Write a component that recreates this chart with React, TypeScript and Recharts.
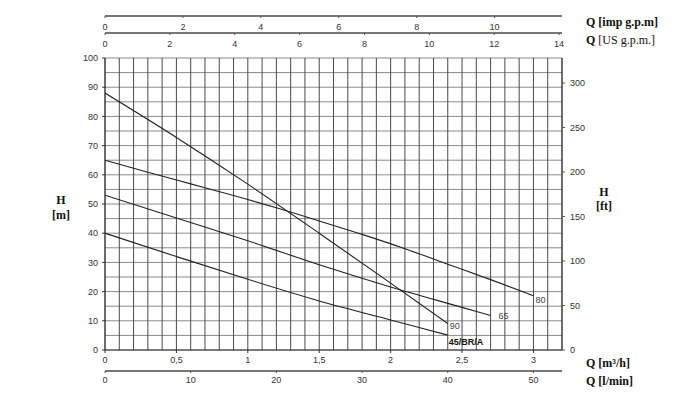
import { ComposedChart, Line, LabelList, XAxis, YAxis, CartesianGrid } from "recharts";

// pump curves: Q in m3/h, H in m
const Q_90 = [0, 0.5, 1, 1.5, 2, 2.4];
const H_90 = [88, 72.8, 56.8, 40, 22.9, 9.1];
const Q_80 = [0, 0.3, 0.6, 0.9, 1.2, 1.5, 1.8, 2.1, 2.4, 2.7, 3];
const H_80 = [65, 60.9, 56.9, 52.9, 48.7, 44.2, 39.6, 34.7, 29.4, 24.1, 18.6];
const Q_65 = [0, 0.5, 1, 1.5, 2, 2.5, 2.7];
const H_65 = [53, 45.2, 37.4, 29.2, 21.6, 14.6, 11.8];
const Q_45 = [0, 0.5, 1, 1.5, 2, 2.4];
const H_45 = [40, 32, 24.2, 16.8, 10.3, 5.1];

const M3H_TICKS = [0, 0.5, 1, 1.5, 2, 2.5, 3];
const LMIN_TICKS = [0, 10, 20, 30, 40, 50];
const US_TICKS = [0, 2, 4, 6, 8, 10, 12, 14];
const IMP_TICKS = [0, 2, 4, 6, 8, 10];
const M_TICKS = [0, 10, 20, 30, 40, 50, 60, 70, 80, 90, 100];
const FT_TICKS = [0, 50, 100, 150, 200, 250, 300];

// grid: every 0.1 m3/h and every 5 m
const GRID_Q = [
  0, 0.1, 0.2, 0.3, 0.4, 0.5, 0.6, 0.7, 0.8, 0.9, 1, 1.1, 1.2, 1.3, 1.4, 1.5, 1.6,
  1.7, 1.8, 1.9, 2, 2.1, 2.2, 2.3, 2.4, 2.5, 2.6, 2.7, 2.8, 2.9, 3, 3.1, 3.2,
];
const GRID_H = [
  0, 5, 10, 15, 20, 25, 30, 35, 40, 45, 50, 55, 60, 65, 70, 75, 80, 85, 90, 95, 100,
];

const Q_MAX = 3.2;
const H_MAX = 100;
const LMIN_PER_M3H = 1000 / 60;
const USGPM_PER_M3H = 4.40287;
const IMPGPM_PER_M3H = 3.66615;
const FT_PER_M = 3.28084;

type Pt = { q: number; h?: number };
const toPoints = (qs: number[], hs: number[]): Pt[] => qs.map((q, i) => ({ q, h: hs[i] }));

const CURVES = [
  { name: "90", data: toPoints(Q_90, H_90) },
  { name: "80", data: toPoints(Q_80, H_80) },
  { name: "65", data: toPoints(Q_65, H_65) },
  { name: "45/BR/A", data: toPoints(Q_45, H_45) },
];

// the flow scales all run over the grid range
const FLOW_ROWS: Pt[] = GRID_Q.map((q) => ({ q }));

// US g.p.m. scale is laid on the m3/h scale, labels converted back
const US_TICKS_M3H = US_TICKS.map((v) => v / USGPM_PER_M3H);

// where each curve name sits relative to its last point
const LABEL_OFFSET: Record<string, { dx: number; dy: number; bold?: boolean }> = {
  "90": { dx: 2, dy: 6 },
  "80": { dx: 2, dy: 7 },
  "65": { dx: 8, dy: 3.5 },
  "45/BR/A": { dx: 1, dy: 9.5, bold: true },
};

const FONT = "Liberation Sans, Arial, sans-serif";
const TICK = { fontSize: 9, fill: "#333", fontFamily: FONT };
const TITLE: React.CSSProperties = {
  position: "absolute",
  fontFamily: "Liberation Serif, Times New Roman, serif",
  fontWeight: "bold",
  fontSize: 12,
  lineHeight: "14px",
  color: "#111",
  whiteSpace: "nowrap",
};

const comma = (v: number) => String(v).replace(".", ",");

function endLabel(name: string, last: number) {
  return (p: any) => {
    if (p.index !== last) return null;
    const o = LABEL_OFFSET[name];
    return (
      <text
        x={Number(p.x) + o.dx}
        y={Number(p.y) + o.dy}
        fontSize={9}
        fontWeight={o.bold ? "bold" : "normal"}
        fill={o.bold ? "#111" : "#444"}
        fontFamily={FONT}
      >
        {name}
      </text>
    );
  };
}

// axis ids are prefixed so recharts stacks them nearest-to-plot first
export default function App() {
  return (
    <div style={{ position: "absolute", left: 0, top: 0, width: 700, height: 400, background: "#fff" }}>
      <ComposedChart
        width={700}
        height={400}
        data={FLOW_ROWS}
        margin={{ top: 15, right: 98, bottom: 9, left: 60 }}
      >
        <XAxis
          xAxisId="t1spacer"
          orientation="top"
          type="number"
          dataKey="q"
          domain={[0, Q_MAX]}
          allowDataOverflow
          height={25}
          axisLine={false}
          tickLine={false}
          tick={false}
        />
        <XAxis
          xAxisId="t2us"
          orientation="top"
          type="number"
          dataKey="q"
          domain={[0, Q_MAX]}
          allowDataOverflow
          ticks={US_TICKS_M3H}
          tickFormatter={(v: number) => String(Math.round(v * USGPM_PER_M3H))}
          interval={0}
          height={17}
          tickSize={-2}
          tickMargin={-12}
          axisLine={{ stroke: "#777", strokeWidth: 2 }}
          tickLine={{ stroke: "#555" }}
          tick={TICK}
        />
        <XAxis
          xAxisId="t3imp"
          orientation="top"
          type="number"
          dataKey={(d: Pt) => d.q * IMPGPM_PER_M3H}
          domain={[0, Q_MAX * IMPGPM_PER_M3H]}
          allowDataOverflow
          ticks={IMP_TICKS}
          interval={0}
          height={1}
          tickSize={-2}
          tickMargin={-12}
          axisLine={{ stroke: "#777", strokeWidth: 2 }}
          tickLine={{ stroke: "#555" }}
          tick={TICK}
        />
        <XAxis
          xAxisId="b1m3h"
          type="number"
          dataKey="q"
          domain={[0, Q_MAX]}
          allowDataOverflow
          ticks={M3H_TICKS}
          interval={0}
          height={21}
          tickSize={3}
          tickMargin={4}
          tickFormatter={comma}
          axisLine={{ stroke: "#333" }}
          tickLine={{ stroke: "#333" }}
          tick={TICK}
        />
        <XAxis
          xAxisId="b2lmin"
          type="number"
          dataKey={(d: Pt) => d.q * LMIN_PER_M3H}
          domain={[0, Q_MAX * LMIN_PER_M3H]}
          allowDataOverflow
          ticks={LMIN_TICKS}
          interval={0}
          height={20}
          tickSize={2}
          tickMargin={4}
          axisLine={{ stroke: "#777", strokeWidth: 2 }}
          tickLine={{ stroke: "#555" }}
          tick={TICK}
        />
        <YAxis
          yAxisId="m"
          type="number"
          domain={[0, H_MAX]}
          allowDataOverflow
          ticks={M_TICKS}
          interval={0}
          width={45}
          tickSize={3}
          tickMargin={4}
          axisLine={{ stroke: "#333" }}
          tickLine={{ stroke: "#333" }}
          tick={TICK}
        />
        <YAxis
          yAxisId="ft"
          orientation="right"
          type="number"
          domain={[0, H_MAX * FT_PER_M]}
          allowDataOverflow
          ticks={FT_TICKS}
          interval={0}
          width={40}
          tickSize={3}
          tickMargin={5}
          axisLine={{ stroke: "#333" }}
          tickLine={{ stroke: "#555" }}
          tick={TICK}
        />
        <CartesianGrid
          xAxisId="b1m3h"
          yAxisId="m"
          vertical={false}
          horizontalValues={GRID_H}
          stroke="#8a8a8a"
          strokeWidth={1}
        />
        <CartesianGrid
          xAxisId="b1m3h"
          yAxisId="m"
          horizontal={false}
          verticalValues={GRID_Q}
          stroke="#4a4a4a"
          strokeWidth={1}
        />
        {CURVES.map((c) => (
          <Line
            key={c.name}
            xAxisId="b1m3h"
            yAxisId="m"
            data={c.data}
            dataKey="h"
            type="monotone"
            stroke="#222"
            strokeWidth={1.1}
            dot={false}
            activeDot={false}
            isAnimationActive={false}
          >
            <LabelList dataKey="h" content={endLabel(c.name, c.data.length - 1)} />
          </Line>
        ))}
      </ComposedChart>

      <div style={{ ...TITLE, left: 586, top: 15 }}>Q [imp g.p.m]</div>
      <div style={{ ...TITLE, left: 586, top: 33 }}>
        Q <span style={{ fontWeight: "normal" }}>[US g.p.m.]</span>
      </div>
      <div style={{ ...TITLE, left: 44, top: 193, width: 34, textAlign: "center", lineHeight: "15px" }}>
        H<br />[m]
      </div>
      <div style={{ ...TITLE, left: 587, top: 185, width: 34, textAlign: "center", lineHeight: "14px" }}>
        H<br />[ft]
      </div>
      <div style={{ ...TITLE, left: 586, top: 356 }}>Q [m³/h]</div>
      <div style={{ ...TITLE, left: 586, top: 374 }}>Q [l/min]</div>
    </div>
  );
}
